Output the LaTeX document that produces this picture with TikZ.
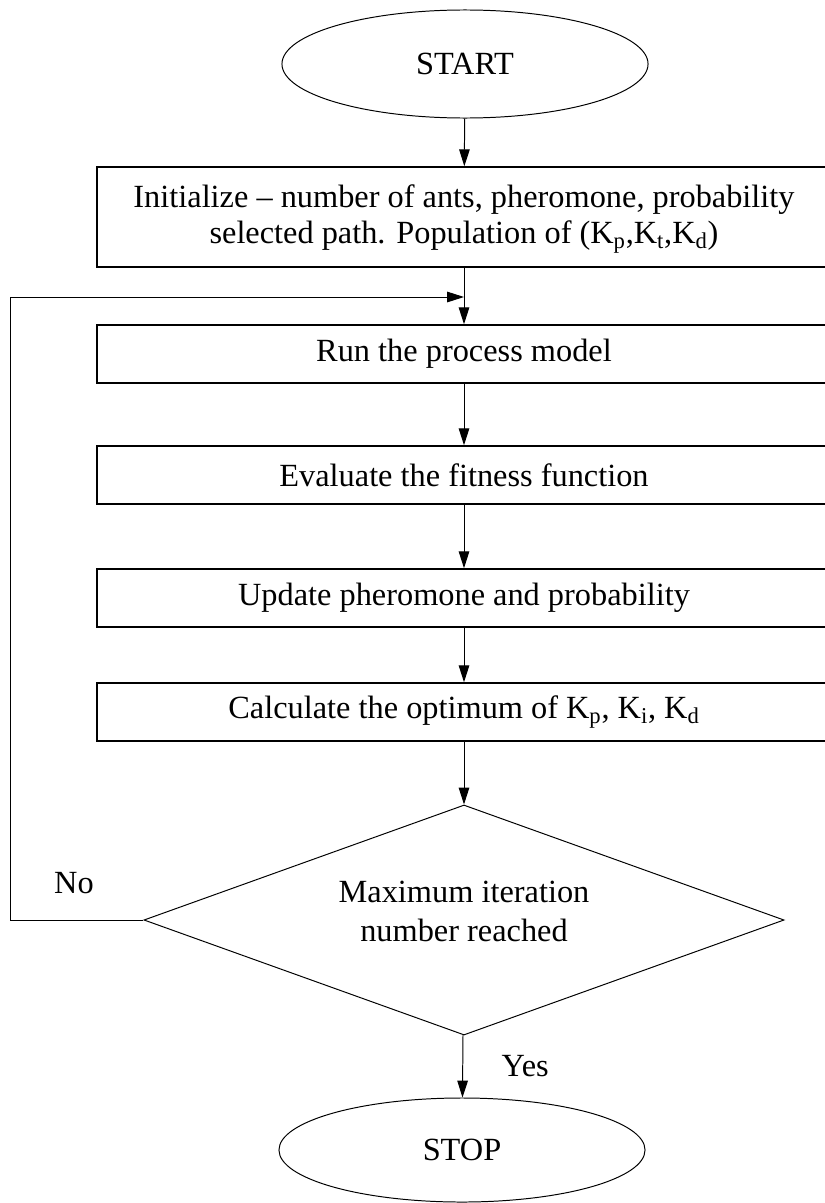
\documentclass[tikz,border=0pt]{standalone}
\usepackage{fontspec}
\setmainfont{Liberation Serif}
\usepackage{tikz}
\usetikzlibrary{shapes.geometric}
\usetikzlibrary{arrows.meta}
\usetikzlibrary{positioning}
\tikzstyle{line} = [draw, line width=0.7pt, -{Triangle[length=12pt,width=7.5pt]}]

\begin{document}
\begin{tikzpicture}[x=0.025cm, y=-0.025cm,
				every node/.style = {font=\fontsize{23}{26}\selectfont},
				terminal/.style = {draw, ellipse, line width=0.7pt,
					minimum width=9.15cm, minimum height=2.7cm},
				stepbox/.style = {draw, rectangle, line width=1.1pt,
					minimum width=18.35cm, minimum height=1.45cm, inner sep=0pt},
				decision/.style = {draw, diamond, line width=0.7pt, aspect=2.78,
					minimum width=16cm, minimum height=5.75cm, inner sep=0pt}]
				
				\useasboundingbox (0,0) rectangle (824,1203);
				
				% Start and stop
				\node[terminal] (start) at (465,64) {START};
				\node[terminal, minimum height=2.6cm] (stop) at (462,1150) {STOP};
				
				% Steps
				\node[stepbox, minimum height=2.5cm, align=center] (init) at (464,217)
					{Initialize -- number of ants, pheromone, probability\\[-1pt]
					 selected path. Population of (K\textsubscript{p},K\textsubscript{t},K\textsubscript{d})\\[-22pt]};
				\node[stepbox] (run) at (464,354) {Run the process model};
				\node[stepbox] (eval) at (464,475) {Evaluate the fitness function};
				\node[stepbox] (update) at (464,598) {Update pheromone and probability};
				\node[stepbox] (calc) at (464,712)
					{Calculate the optimum of K\textsubscript{p}, K\textsubscript{i}, K\textsubscript{d}};
				
				% Test
				\node[decision, align=center] (test) at (464,920)
					{Maximum iteration\\[2pt] number reached\\[-14pt]};
				
				% Arrows
				\path[line] (start) -- (init);
				\path[line] (init) -- (run);
				\path[line] (run) -- (eval);
				\path[line] (eval) -- (update);
				\path[line] (update) -- (calc);
				\path[line] (calc) -- (test);
				\path[line] (test) -- node[right=24pt] {Yes} (stop);
				
				% Loop back
				\coordinate (back) at (init.south |- 0,297);
				\path[line] (test.west) -- (10,920) -- (10,297) -- (back);
				\node (no) at (74,883) {No};
				
		\end{tikzpicture}
\end{document}
